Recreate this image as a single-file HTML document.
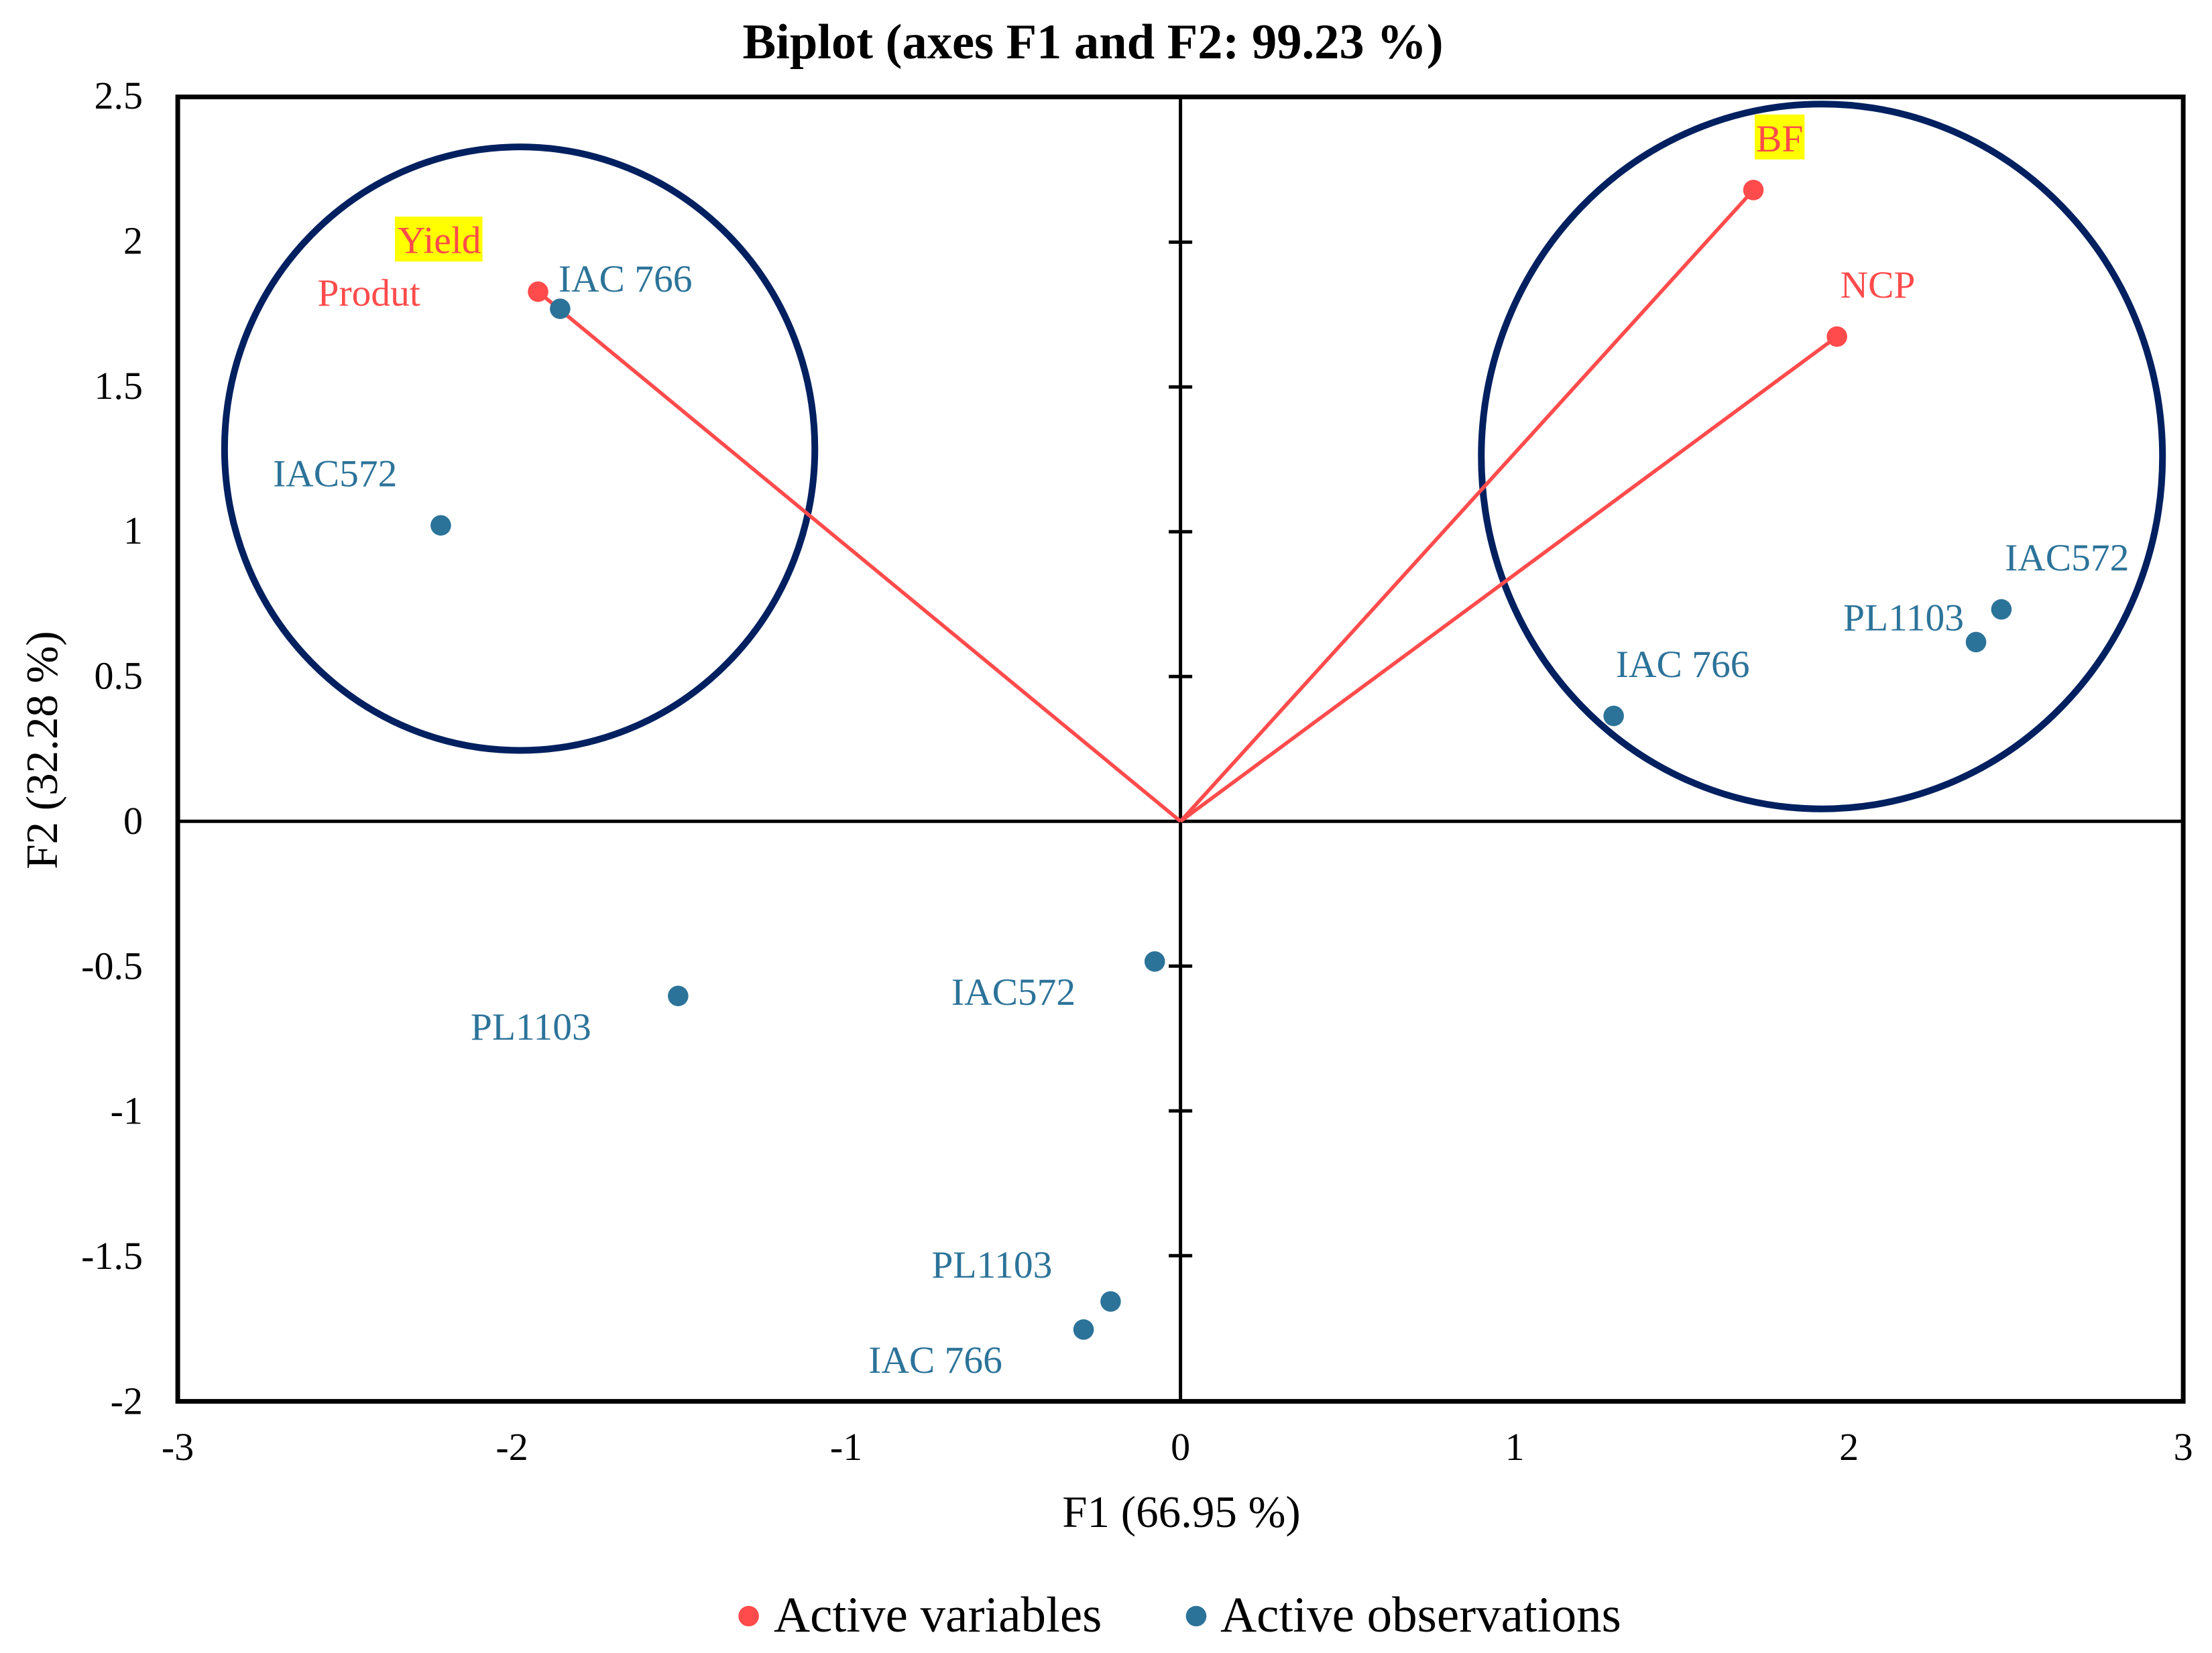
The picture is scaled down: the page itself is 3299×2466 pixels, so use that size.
<!DOCTYPE html>
<html lang="en">
<head>
<meta charset="utf-8">
<title>Biplot (axes F1 and F2: 99.23 %)</title>
<style>
html,body{margin:0;padding:0;background:#fff;}
svg{display:block;font-family:"Liberation Serif","Times New Roman",serif;}
</style>
</head>
<body>
<svg id="chart" xmlns="http://www.w3.org/2000/svg" width="3299" height="2466" viewBox="0 0 3299 2466">
  <rect width="3299" height="2466" fill="#ffffff"/>
  <text x="1630" y="87" font-size="74.5" font-weight="bold" text-anchor="middle">Biplot (axes F1 and F2: 99.23 %)</text>
  <text x="1762" y="2278" font-size="67" text-anchor="middle">F1 (66.95 %)</text>
  <text transform="translate(85 1119) rotate(-90)" font-size="67" text-anchor="middle">F2 (32.28 %)</text>
  <g id="ellipses"></g>
  <g id="axes"></g>
  <g id="vectors"></g>
  <g id="points"></g>
  <g id="labels"></g>
  <g>
    <circle cx="1116.6" cy="2411" r="15.3" fill="#ff4b4b"/>
    <text x="1154" y="2434" font-size="75">Active variables</text>
    <circle cx="1784" cy="2411" r="15.3" fill="#2c7399"/>
    <text x="1820" y="2434" font-size="75">Active observations</text>
  </g>
</svg>
<script>
const xTicks = [-3, -2, -1, 0, 1, 2, 3];
const yTicks = [2.5, 2, 1.5, 1, 0.5, 0, -0.5, -1, -1.5, -2];

const variableNames = ["Produt", "BF", "NCP"];
const variableF1 = [-1.922, 1.714, 1.964];
const variableF2 = [1.829, 2.180, 1.674];
const variableHighlighted = [false, true, false];

const observationNames = ["IAC 766", "IAC572", "PL1103", "IAC572", "PL1103", "IAC 766", "IAC 766", "PL1103", "IAC572"];
const observationF1 = [-1.856, -2.213, -1.503, -0.077, -0.209, -0.290, 1.296, 2.380, 2.456];
const observationF2 = [1.770, 1.022, -0.603, -0.484, -1.658, -1.755, 0.364, 0.619, 0.732];

const ellipseCentreF1 = [-1.977, 1.919];
const ellipseCentreF2 = [1.287, 1.260];
const ellipseRadiusF1 = [0.883, 1.019];
const ellipseRadiusF2 = [1.042, 1.217];

/* Label placement, relative to each point */
const variableLabelDx = [-329, 4, 4.9];
const variableLabelDy = [20.6, -57.7, -58];
const observationLabelDx = [-2.5, -250.3, -309.5, -303.3, -267, -320.8, 3.2, -198, 5.2];
const observationLabelDy = [-25.7, -58.5, 65, 64.7, -35.5, 64.6, -58.3, -17.3, -58.3];

const NS = "http://www.w3.org/2000/svg";
const xZero = 1760.6, xUnit = 498.5, yZero = 1225.3, yUnit = 432;
const RED = "#ff4b4b", BLUE = "#2c7399", NAVY = "#002060";
function xPos(v) { return xZero + v * xUnit; }
function yPos(v) { return yZero - v * yUnit; }
function yTickBaseline(v) { return 162 + (2.5 - v) * 432.75; }
function make(tag, attrs, parent, text) {
  const el = document.createElementNS(NS, tag);
  for (const k in attrs) el.setAttribute(k, attrs[k]);
  if (text !== undefined) el.textContent = text;
  parent.appendChild(el);
  return el;
}
const gEllipses = document.getElementById("ellipses");
const gAxes = document.getElementById("axes");
const gVectors = document.getElementById("vectors");
const gPoints = document.getElementById("points");
const gLabels = document.getElementById("labels");

ellipseCentreF1.forEach(function (c, i) {
  const el = make("ellipse", {cx: xPos(c), cy: yPos(ellipseCentreF2[i]), rx: ellipseRadiusF1[i] * xUnit, ry: ellipseRadiusF2[i] * yUnit, fill: "none", stroke: NAVY, "stroke-width": 10}, gEllipses);
  
  
});

const frame = make("rect", {x: xPos(-3), y: 144.6, width: xPos(3) - xPos(-3), height: 1946, fill: "none", stroke: "#000", "stroke-width": 7}, gAxes);


const xAxis = make("line", {x1: xPos(-3), x2: xPos(3), y1: yPos(0), y2: yPos(0), stroke: "#000", "stroke-width": 5}, gAxes);


const yAxis = make("line", {x1: xPos(0), x2: xPos(0), y1: 144.6, y2: 2090.6, stroke: "#000", "stroke-width": 5}, gAxes);



yTicks.forEach(function (t) {
  if (t !== 2.5 && t !== -2 && t !== 0) {
    const mark = make("line", {x1: xPos(0) - 17.5, x2: xPos(0) + 17.5, y1: yPos(t), y2: yPos(t), stroke: "#000", "stroke-width": 5}, gAxes);
    
    
  }
  const label = make("text", {x: 213, y: yTickBaseline(t), "font-size": 58, "text-anchor": "end"}, gAxes, String(t));
  
  
});
xTicks.forEach(function (t) {
  const label = make("text", {x: xPos(t), y: 2178, "font-size": 58, "text-anchor": "middle"}, gAxes, String(t));
  
  
});

variableF1.forEach(function (v, i) {
  const vec = make("line", {x1: xPos(0), y1: yPos(0), x2: xPos(v), y2: yPos(variableF2[i]), stroke: RED, "stroke-width": 5.5}, gVectors);
  
  
  const dot = make("circle", {cx: xPos(v), cy: yPos(variableF2[i]), r: 15.3, fill: RED}, gPoints);
  
  
  const lx = xPos(v) + variableLabelDx[i], ly = yPos(variableF2[i]) + variableLabelDy[i];
  const hl = variableHighlighted[i] ? make("rect", {x: lx - 2, y: ly - 55, height: 67, fill: "#ffff00"}, gLabels) : null;
  const txt = make("text", {x: lx, y: ly, "font-size": 57.5, fill: RED}, gLabels, variableNames[i]);
  
  
  if (hl) {
    hl.setAttribute('width', txt.getComputedTextLength() + 4);
    
    
  }
});

/* "Yield" text annotation sits next to the Produt point */
const yieldX = xPos(variableF1[0]) - 209.5, yieldY = yPos(variableF2[0]) - 57.5;
const yieldBox = make("rect", {x: yieldX - 4, y: yieldY - 54.5, height: 67, fill: "#ffff00"}, gLabels);
const yieldText = make("text", {x: yieldX, y: yieldY, "font-size": 57.5, fill: RED}, gLabels, "Yield");
yieldBox.setAttribute('width', yieldText.getComputedTextLength() + 6);





observationF1.forEach(function (v, i) {
  const dot = make("circle", {cx: xPos(v), cy: yPos(observationF2[i]), r: 15.3, fill: BLUE}, gPoints);
  
  
  const txt = make("text", {x: xPos(v) + observationLabelDx[i], y: yPos(observationF2[i]) + observationLabelDy[i], "font-size": 57.5, fill: BLUE}, gLabels, observationNames[i]);
  
  
});
</script>
</body>
</html>
